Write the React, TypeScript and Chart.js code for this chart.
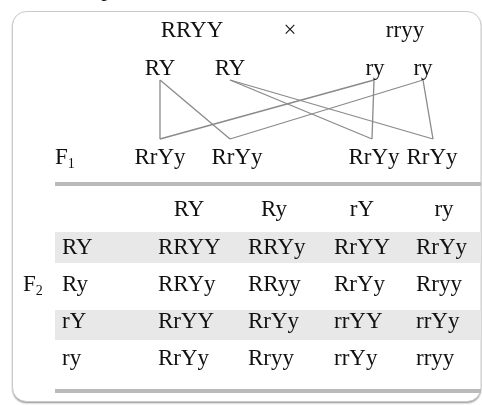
import React, { useEffect, useRef } from "react";
import { Chart, registerables } from "chart.js";

Chart.register(...registerables);

// ---- data ----
const PARENTS = ["RRYY", "×", "rryy"];
const GAMETES = ["RY", "RY", "ry", "ry"];
const F1_LABEL = "F";
const F1_SUB = "1";
const F1_GENOTYPES = ["RrYy", "RrYy", "RrYy", "RrYy"];
// [gamete index, F1 index]
const CROSSES: [number, number][] = [
  [0, 0], [0, 1], [1, 2], [1, 3], [2, 0], [2, 2], [3, 1], [3, 3],
];
const F2_LABEL = "F";
const F2_SUB = "2";
const COL_GAMETES = ["RY", "Ry", "rY", "ry"];
const ROW_GAMETES = ["RY", "Ry", "rY", "ry"];
const ROW_RY = ["RRYY", "RRYy", "RrYY", "RrYy"];
const ROW_Ry = ["RRYy", "RRyy", "RrYy", "Rryy"];
const ROW_rY = ["RrYY", "RrYy", "rrYY", "rrYy"];
const ROW_ry = ["RrYy", "Rryy", "rrYy", "rryy"];
const F2_TABLE = [ROW_RY, ROW_Ry, ROW_rY, ROW_ry];

// ---- layout (chart units = canvas pixels) ----
const W = 482;
const H = 405;
const FONT = "23px 'Liberation Serif', serif";
const SUB_FONT = "14px 'Liberation Serif', serif";
const TEXT = "#111111";
const LINE = "#8a8a8a";
const PARENT_X = [192, 290, 405];
const PARENT_Y = 37;
const GAMETE_X = [160, 230, 375, 423];
const GAMETE_Y = 75;
const GAMETE_ANCHOR_X = [160, 230, 374, 423];
const GAMETE_ANCHOR_Y = 80;
const F1_X = [160, 237, 374, 432];
const F1_ANCHOR_X = [160, 230, 372, 433];
const F1_ANCHOR_Y = 139;
const F1_Y = 164;
const RULE_X0 = 55;
const RULE_X1 = 481;
const RULE1_Y = 182;
const RULE2_Y = 389;
const HEADER_Y = 216;
const HEADER_X = [189, 274, 362, 444];
const CELL_X = [158, 248, 334, 416];
const ROW_LABEL_X = 62;
const ROW_Y = [254, 291, 328, 365];
const ROW_BAND = [
  [232, 263],
  [null, null],
  [310, 340],
  [null, null],
];

const lineDatasets = CROSSES.map(([g, f]) => ({
  data: [
    { x: GAMETE_ANCHOR_X[g], y: GAMETE_ANCHOR_Y },
    { x: F1_ANCHOR_X[f], y: F1_ANCHOR_Y },
  ],
  showLine: true,
  borderColor: LINE,
  borderWidth: 1.3,
  pointRadius: 0,
  fill: false,
}));

function roundRect(ctx: CanvasRenderingContext2D, x: number, y: number, w: number, h: number, r: number) {
  ctx.beginPath();
  ctx.moveTo(x + r, y);
  ctx.lineTo(x + w - r, y);
  ctx.arcTo(x + w, y, x + w, y + r, r);
  ctx.lineTo(x + w, y + h - r);
  ctx.arcTo(x + w, y + h, x + w - r, y + h, r);
  ctx.lineTo(x + r, y + h);
  ctx.arcTo(x, y + h, x, y + h - r, r);
  ctx.lineTo(x, y + r);
  ctx.arcTo(x, y, x + r, y, r);
  ctx.closePath();
}

const diagramPlugin = {
  id: "diagram",
  beforeDatasetsDraw(chart: any) {
    const ctx = chart.ctx as CanvasRenderingContext2D;
    const xs = chart.scales.x;
    const ys = chart.scales.y;
    const px = (v: number) => xs.getPixelForValue(v);
    const py = (v: number) => ys.getPixelForValue(v);
    ctx.save();
    // frame
    ctx.shadowColor = "rgba(0,0,0,0.45)";
    ctx.shadowBlur = 2;
    ctx.shadowOffsetY = 1.5;
    roundRect(ctx, px(12.5), py(11.5), px(481) - px(12.5), py(401.5) - py(11.5), 14);
    ctx.fillStyle = "#ffffff";
    ctx.fill();
    ctx.shadowColor = "transparent";
    ctx.strokeStyle = "#c9c9c9";
    ctx.lineWidth = 1;
    ctx.stroke();
    // bands
    ctx.fillStyle = "#e8e8e8";
    ROW_BAND.forEach(([a, b]) => {
      if (a == null || b == null) return;
      ctx.fillRect(px(RULE_X0), py(a), px(RULE_X1) - px(RULE_X0), py(b) - py(a));
    });
    // rules
    ctx.fillStyle = "#bababa";
    ctx.fillRect(px(RULE_X0), py(RULE1_Y), px(RULE_X1) - px(RULE_X0), 4);
    ctx.fillRect(px(RULE_X0), py(RULE2_Y), px(RULE_X1) - px(RULE_X0), 4);
    ctx.restore();
  },
  afterDatasetsDraw(chart: any) {
    const ctx = chart.ctx as CanvasRenderingContext2D;
    const xs = chart.scales.x;
    const ys = chart.scales.y;
    const px = (v: number) => xs.getPixelForValue(v);
    const py = (v: number) => ys.getPixelForValue(v);
    ctx.save();
    ctx.fillStyle = TEXT;
    ctx.font = FONT;
    ctx.textBaseline = "alphabetic";
    const t = (s: string, x: number, y: number, align: CanvasTextAlign) => {
      ctx.textAlign = align;
      ctx.fillText(s, px(x), py(y));
    };
    const sub = (s: string, sb: string, x: number, y: number) => {
      ctx.font = FONT;
      ctx.textAlign = "left";
      ctx.fillText(s, px(x), py(y));
      const w = ctx.measureText(s).width;
      ctx.font = SUB_FONT;
      ctx.fillText(sb, px(x) + w, py(y) + 4);
      ctx.font = FONT;
    };
    // partial caption letter above
    t("p", 107, -4, "center");
    PARENTS.forEach((s, i) => t(s, PARENT_X[i], PARENT_Y, "center"));
    GAMETES.forEach((s, i) => t(s, GAMETE_X[i], GAMETE_Y, "center"));
    sub(F1_LABEL, F1_SUB, 55, F1_Y);
    F1_GENOTYPES.forEach((s, i) => t(s, F1_X[i], F1_Y, "center"));
    COL_GAMETES.forEach((s, i) => t(s, HEADER_X[i], HEADER_Y, "center"));
    sub(F2_LABEL, F2_SUB, 23, ROW_Y[1]);
    ROW_GAMETES.forEach((s, r) => {
      t(s, ROW_LABEL_X, ROW_Y[r], "left");
      F2_TABLE[r].forEach((c, j) => t(c, CELL_X[j], ROW_Y[r], "left"));
    });
    ctx.restore();
  },
};

export default function App() {
  const ref = useRef<HTMLCanvasElement>(null);
  useEffect(() => {
    document.body.style.margin = "0";
    const canvas = ref.current!;
    const chart = new Chart(canvas, {
      type: "scatter",
      data: { datasets: lineDatasets as any },
      options: {
        responsive: false,
        animation: false,
        layout: { padding: 0 },
        plugins: { legend: { display: false }, tooltip: { enabled: false } },
        scales: {
          x: { type: "linear", min: 0, max: W, display: false },
          y: { type: "linear", min: 0, max: H, reverse: true, display: false },
        },
      },
      plugins: [diagramPlugin],
    });
    return () => chart.destroy();
  }, []);
  return (
    <div style={{ width: W, height: H }}>
      <canvas ref={ref} width={W} height={H} style={{ display: "block" }} />
    </div>
  );
}
